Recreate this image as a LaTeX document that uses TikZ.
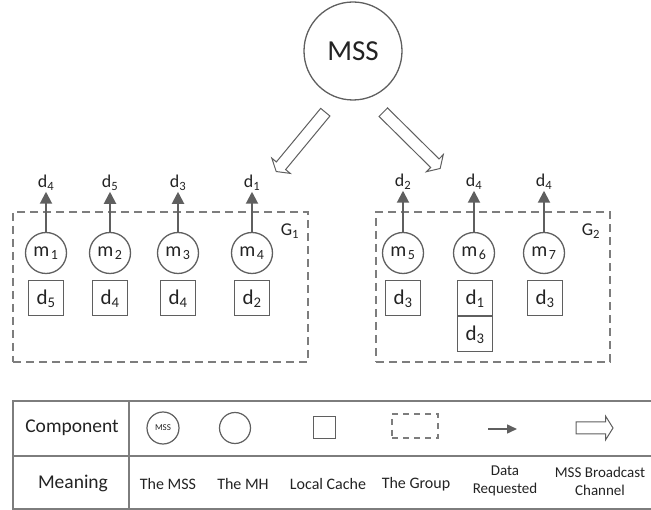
\documentclass[tikz,border=0pt]{standalone}
\usepackage{fontspec}
\setmainfont{Carlito}
\usepackage{tikz}
\usetikzlibrary{shapes,arrows,arrows.meta,positioning}

\definecolor{linegray}{RGB}{95,95,95}
\definecolor{dashgray}{RGB}{125,125,125}
\definecolor{textgray}{RGB}{35,35,35}
\newcommand{\pxfont}[1]{\fontsize{#1}{#1}\selectfont}

\begin{document}
\begin{tikzpicture}[x=1pt, y=-1pt, text=textgray,
	mh/.style={shape=circle, draw=linegray, line width=1.3pt, minimum size=41pt, inner sep=0pt, font=\pxfont{20}},
	cache/.style={shape=rectangle, draw=linegray, line width=1pt, minimum size=35pt, inner sep=0pt, font=\pxfont{21}},
	want/.style={font=\pxfont{18}, inner sep=1pt},
	req/.style={color=linegray, line width=2pt, -{Triangle[length=12pt,width=12pt]}},
	group/.style={draw=dashgray, line width=1.3pt, dash pattern=on 8pt off 5pt, inner sep=0pt},
	tabline/.style={draw=dashgray, line width=1.3pt},
	pics/bcast/.style={code={
		\draw[draw=linegray, line width=1pt, fill=white] (0,-6) -- (#1-7.5,-6) -- (#1-7.5,-12) -- (#1,0) -- (#1-7.5,12) -- (#1-7.5,6) -- (0,6) -- cycle;
	}}]
	\useasboundingbox (0,0) rectangle (651,510);

	\node[shape=circle, draw=linegray, line width=1.3pt, minimum size=98pt, font=\pxfont{29}] (mss) at (353,51) {MSS};
	\pic[rotate=230.4] at (325.3,112.2) {bcast=77};
	\pic[rotate=-44.7] at (383.3,112.2) {bcast=80};

	\node[group, minimum width=295pt, minimum height=150pt] (g1) at (160.5,287) {};
	\node[group, minimum width=234pt, minimum height=150pt] (g2) at (493,287) {};
	\node[font=\pxfont{18}] (g1lab) at (290,231) {G\textsubscript{1}};
	\node[font=\pxfont{18}] (g2lab) at (591,231) {G\textsubscript{2}};

	\node[mh] (m1) at (46,253) {m\kern1.5pt\textsubscript{1}};
	\node[mh] (m2) at (110,253) {m\kern1.5pt\textsubscript{2}};
	\node[mh] (m3) at (178,253) {m\kern1.5pt\textsubscript{3}};
	\node[mh] (m4) at (252,253) {m\kern1.5pt\textsubscript{4}};
	\node[mh] (m5) at (403,253) {m\kern1.5pt\textsubscript{5}};
	\node[mh] (m6) at (474,253) {m\kern1.5pt\textsubscript{6}};
	\node[mh] (m7) at (544,253) {m\kern1.5pt\textsubscript{7}};

	\node[cache] (c1) at (46,298.5) {d\textsubscript{5}};
	\node[cache] (c2) at (110,298.5) {d\textsubscript{4}};
	\node[cache] (c3) at (178,298.5) {d\textsubscript{4}};
	\node[cache] (c4) at (252,298.5) {d\textsubscript{2}};
	\node[cache] (c5) at (403,298.5) {d\textsubscript{3}};
	\node[cache] (c6) at (475,298.5) {d\textsubscript{1}};
	\node[cache, below=0pt of c6] (c6b) {d\textsubscript{3}};
	\node[cache] (c7) at (545,298.5) {d\textsubscript{3}};

	\node[want] (q1) at (46,183) {d\textsubscript{4}};
	\node[want] (q2) at (110,183) {d\textsubscript{5}};
	\node[want] (q3) at (178,183) {d\textsubscript{3}};
	\node[want] (q4) at (252,183) {d\textsubscript{1}};
	\node[want] (q5) at (403,182) {d\textsubscript{2}};
	\node[want] (q6) at (474,182) {d\textsubscript{4}};
	\node[want] (q7) at (544,182) {d\textsubscript{4}};

	\path [req] (m1) edge (q1);
	\path [req] (m2) edge (q2);
	\path [req] (m3) edge (q3);
	\path [req] (m4) edge (q4);
	\path [req] (m5) edge (q5);
	\path [req] (m6) edge (q6);
	\path [req] (m7) edge (q7);

	\draw[tabline] (13,401) rectangle (660,509);
	\draw[tabline] (13,456) -- (660,456);
	\draw[tabline] (129,401) -- (129,509);

	\node[font=\pxfont{19.5}] (comp) at (72,428) {Component};
	\node[font=\pxfont{19.5}] (mean) at (73,483) {Meaning};

	\node[shape=circle, draw=linegray, line width=1.2pt, minimum size=32pt, inner sep=0pt, font=\pxfont{9}] (kmss) at (163,428) {MSS};
	\node[shape=circle, draw=linegray, line width=1.2pt, minimum size=31pt, inner sep=0pt] (kmh) at (235,428) {};
	\node[shape=rectangle, draw=linegray, line width=1pt, minimum size=22pt, inner sep=0pt] (kcache) at (324,428) {};
	\node[group, line width=1.1pt, dash pattern=on 6pt off 5pt, minimum width=46pt, minimum height=24pt] (kgroup) at (415,426) {};
	\coordinate (kreqa) at (488,429);
	\coordinate (kreqb) at (517,429);
	\path [req, line width=1.5pt, -{Triangle[length=10pt,width=9pt]}] (kreqa) edge (kreqb);
	\pic at (576,428) {bcast=37};

	\node[font=\pxfont{16}] (tmss) at (168,484) {The MSS};
	\node[font=\pxfont{16}] (tmh) at (243,484) {The MH};
	\node[font=\pxfont{16}] (tcache) at (328,484) {Local Cache};
	\node[font=\pxfont{16}] (tgroup) at (416,484) {The Group};
	\node[font=\fontsize{15}{18}\selectfont, align=center] (treq) at (505,481) {Data\\Requested};
	\node[font=\fontsize{15}{18}\selectfont, align=center] (tbcast) at (600,481) {MSS Broadcast\\Channel};
\end{tikzpicture}
\end{document}
